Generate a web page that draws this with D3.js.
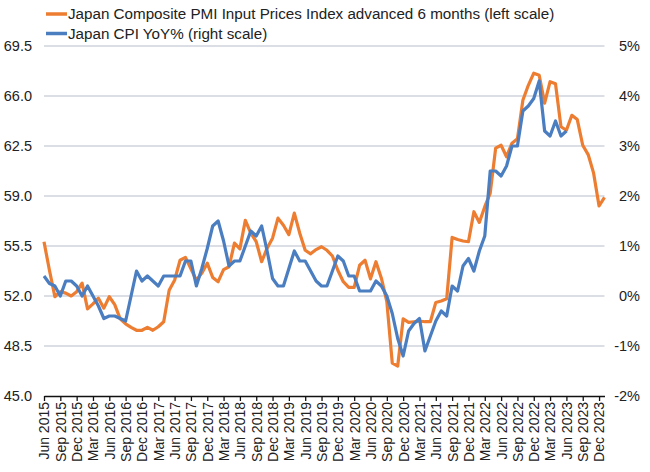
<!DOCTYPE html>
<html>
<head>
<meta charset="utf-8">
<script src="https://cdn.jsdelivr.net/npm/d3@7"></script>
<style>
  body { margin: 0; background: #fff; }
  svg { font-family: "Liberation Sans", Arial, sans-serif; }
</style>
</head>
<body>
<svg id="chart" width="650" height="472"></svg>
<script>
// monthly series, first value = Jun 2015
const pmiAdvanced = [
  55.8, 53.8, 51.95, 52.3, 52.2, 52.0, 52.3, 52.9, 51.1, 51.45,
  51.85, 51.15, 51.95, 51.4, 50.4, 50.05, 49.8, 49.6, 49.6, 49.8,
  49.6, 49.85, 50.2, 52.4, 53.1, 54.5, 54.7, 53.9, 53.1, 53.6,
  54.3, 53.3, 53.0, 53.85, 54.05, 55.7, 55.3, 57.3, 56.4, 55.8,
  54.4, 55.35, 56.05, 57.45, 56.95, 56.3, 57.8, 56.4, 55.2, 54.95,
  55.25, 55.45, 55.2, 54.8, 53.8, 53.0, 52.6, 52.6, 54.15, 54.5,
  53.2, 54.4, 53.25, 51.6, 47.3, 47.1, 50.4, 50.15, 50.2, 50.25,
  50.2, 50.2, 51.55, 51.65, 51.8, 56.1, 55.95, 55.85, 55.8, 57.9,
  57.15, 58.25, 59.2, 62.35, 62.55, 61.75, 62.7, 63.0, 65.7, 66.75,
  67.6, 67.45, 65.5, 67.0, 66.85, 63.85, 63.6, 64.65, 64.35, 62.55,
  61.9, 60.6, 58.3, 58.9
];

const cpiYoY = [
  0.4, 0.25, 0.2, 0.0, 0.3, 0.3, 0.2, 0.0, 0.2, 0.0,
  -0.2, -0.45, -0.4, -0.4, -0.45, -0.5, 0.0, 0.5, 0.3, 0.4,
  0.3, 0.2, 0.4, 0.4, 0.4, 0.4, 0.7, 0.7, 0.2, 0.55,
  0.95, 1.4, 1.5, 1.1, 0.6, 0.7, 0.7, 1.0, 1.3, 1.2,
  1.4, 0.9, 0.35, 0.2, 0.2, 0.55, 0.9, 0.7, 0.7, 0.5,
  0.3, 0.2, 0.2, 0.5, 0.8, 0.7, 0.4, 0.4, 0.1, 0.1,
  0.1, 0.3, 0.2, 0.0, -0.35, -0.85, -1.2, -0.7, -0.55, -0.45,
  -1.1, -0.8, -0.5, -0.3, -0.4, 0.2, 0.1, 0.6, 0.75, 0.5,
  0.9, 1.2, 2.5, 2.5, 2.4, 2.6, 3.0, 3.0, 3.7, 3.8,
  3.95, 4.3, 3.3, 3.2, 3.5, 3.2, 3.3
];

const tickLabels = [
  "Jun 2015", "Sep 2015", "Dec 2015", "Mar 2016", "Jun 2016", "Sep 2016",
  "Dec 2016", "Mar 2017", "Jun 2017", "Sep 2017", "Dec 2017", "Mar 2018",
  "Jun 2018", "Sep 2018", "Dec 2018", "Mar 2019", "Jun 2019", "Sep 2019",
  "Dec 2019", "Mar 2020", "Jun 2020", "Sep 2020", "Dec 2020", "Mar 2021",
  "Jun 2021", "Sep 2021", "Dec 2021", "Mar 2022", "Jun 2022", "Sep 2022",
  "Dec 2022", "Mar 2023", "Jun 2023", "Sep 2023", "Dec 2023"
];

const leftTicks = [45.0, 48.5, 52.0, 55.5, 59.0, 62.5, 66.0, 69.5];
const rightTicks = [-2, -1, 0, 1, 2, 3, 4, 5];

const seriesNames = [
  "Japan Composite PMI Input Prices Index advanced 6 months (left scale)",
  "Japan CPI YoY% (right scale)"
];

const orange = "#ED7D31";
const blue = "#4A7EC1";

const svg = d3.select("#chart");
const plot = { left: 44, right: 604.5, top: 46, bottom: 396 };

const x = d3.scaleLinear().domain([0, 103]).range([plot.left, plot.right]);
const yLeft = d3.scaleLinear().domain([45, 69.5]).range([plot.bottom, plot.top]);
const yRight = d3.scaleLinear().domain([-2, 5]).range([plot.bottom, plot.top]);

// gridlines
svg.append("g")
  .selectAll("line")
  .data(leftTicks.slice(1))
  .join("line")
  .attr("x1", plot.left)
  .attr("x2", plot.right)
  .attr("y1", (d) => yLeft(d))
  .attr("y2", (d) => yLeft(d))
  .attr("stroke", "#cfd5dd")
  .attr("stroke-width", 1.3);

// left axis
const leftAxis = svg.append("g")
  .attr("transform", "translate(32,0)")
  .call(d3.axisLeft(yLeft).tickValues(leftTicks).tickFormat(d3.format(".1f")).tickSize(0));
leftAxis.select(".domain").remove();

// right axis
const rightAxis = svg.append("g")
  .attr("transform", "translate(640,0)")
  .call(d3.axisLeft(yRight).tickValues(rightTicks).tickFormat((d) => d + "%").tickSize(0));
rightAxis.select(".domain").remove();

[leftAxis, rightAxis].forEach((g) => {
  g.selectAll("text")
    .attr("x", 0)
    .attr("font-size", 14.5)
    .attr("fill", "#222");
});

// bottom axis
const tickIdx = tickLabels.map((_, i) => i * 3);
const bottomAxis = svg.append("g")
  .attr("transform", `translate(0,${plot.bottom})`)
  .call(d3.axisBottom(x)
    .tickValues(tickIdx)
    .tickFormat((d) => tickLabels[d / 3])
    .tickSize(5)
    .tickSizeOuter(0));
bottomAxis.select(".domain").attr("stroke", "#111").attr("stroke-width", 1.3);
bottomAxis.selectAll(".tick line").attr("stroke", "#111").attr("stroke-width", 1.3);
bottomAxis.selectAll("text")
  .attr("font-size", 14)
  .attr("fill", "#222")
  .attr("transform", "rotate(-90)")
  .attr("text-anchor", "end")
  .attr("x", -6)
  .attr("y", 0)
  .attr("dy", "0.35em");

// lines
const pmiLine = d3.line()
  .x((d, i) => x(i))
  .y((d) => yLeft(d));
const cpiLine = d3.line()
  .x((d, i) => x(i))
  .y((d) => yRight(d));

svg.append("path")
  .datum(pmiAdvanced)
  .attr("fill", "none")
  .attr("stroke", orange)
  .attr("stroke-width", 3.2)
  .attr("stroke-linejoin", "round")
  .attr("d", pmiLine);

svg.append("path")
  .datum(cpiYoY)
  .attr("fill", "none")
  .attr("stroke", blue)
  .attr("stroke-width", 3.2)
  .attr("stroke-linejoin", "round")
  .attr("d", cpiLine);

// legend
const legend = svg.append("g");
[orange, blue].forEach((color, i) => {
  const yy = 14 + i * 19.5;
  legend.append("line")
    .attr("x1", 46)
    .attr("x2", 67)
    .attr("y1", yy)
    .attr("y2", yy)
    .attr("stroke", color)
    .attr("stroke-width", 3.5);
  legend.append("text")
    .attr("x", 68)
    .attr("y", yy)
    .attr("dy", "0.35em")
    .attr("font-size", 15.2)
    .attr("fill", "#222")
    .text(seriesNames[i]);
});
</script>
</body>
</html>
